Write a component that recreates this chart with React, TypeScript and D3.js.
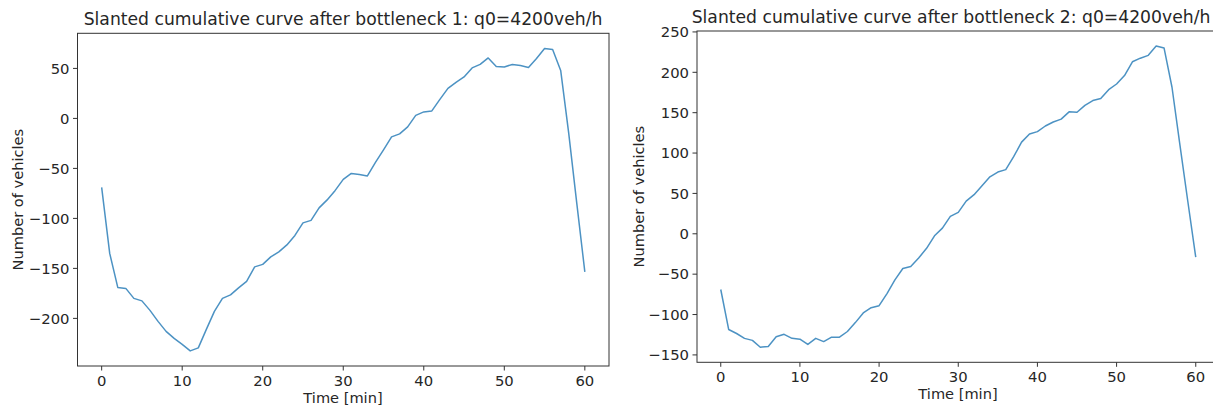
import React from "react";
import * as d3 from "d3";

const minutes: number[] = Array.from({ length: 61 }, (_, i) => i);

const bottleneck1: number[] = [
  -69, -135, -169, -170, -180, -182.5, -192, -203, -213, -220,
  -226, -232.5, -229.5, -211, -193, -180, -176.5, -169.5, -163, -148.5,
  -146, -138.5, -133.5, -126.5, -117, -104.5, -102, -89.5, -81.5, -72,
  -61, -55, -56, -57.5, -44, -31.5, -18.5, -15.5, -8.5, 3,
  6.5, 7.5, 19, 30, 36, 41.5, 50.5, 54, 60.5, 52,
  51.5, 54, 53, 51, 60, 70, 69, 48, -15, -85,
  -153.5,
];

const bottleneck2: number[] = [
  -69, -118.5, -123.5, -129.5, -132, -140.5, -139.5, -127.5, -124.5, -129.5,
  -130.5, -137, -129.5, -133.5, -128, -128, -121, -110, -98, -91.5,
  -89, -74, -57, -43, -40.5, -30, -18, -2.5, 7, 21.5,
  26.5, 40.5, 48.5, 59.5, 70.5, 76.5, 79.5, 95.5, 113.5, 123.5,
  126.5, 133.5, 138.5, 142, 151, 150.5, 159, 165, 167.5, 178.5,
  185.5, 196, 213, 217.5, 221, 232.5, 230, 181.5, 110, 40,
  -29,
];

const xTicks: number[] = [0, 10, 20, 30, 40, 50, 60];
const yTicks1: number[] = [-200, -150, -100, -50, 0, 50];
const yTicks2: number[] = [-150, -100, -50, 0, 50, 100, 150, 200, 250];

const titles: string[] = [
  "Slanted cumulative curve after bottleneck 1: q0=4200veh/h",
  "Slanted cumulative curve after bottleneck 2: q0=4200veh/h",
];
const xLabel = "Time [min]";
const yLabel = "Number of vehicles";

const FONT = "'DejaVu Sans', sans-serif";
const TEXT = "#262626";

function fmt(v: number): string {
  return v < 0 ? "\u2212" + Math.abs(v) : String(v);
}

interface PanelProps {
  left: number;
  right: number;
  top: number;
  bottom: number;
  values: number[];
  yTicks: number[];
  title: string;
  titleX: number;
  xLabelX: number;
  yLabelX: number;
}

function Panel({ left, right, top, bottom, values, yTicks, title, titleX, xLabelX, yLabelX }: PanelProps) {
  const ymin = d3.min(values) as number;
  const ymax = d3.max(values) as number;
  const ym = (ymax - ymin) * 0.05;
  const x = d3.scaleLinear().domain([-3, 63]).range([left, right]);
  const y = d3.scaleLinear().domain([ymin - ym, ymax + ym]).range([bottom, top]);
  const line = d3
    .line<number>()
    .x((_, i) => x(minutes[i]))
    .y((d) => y(d));
  const cy = (top + bottom) / 2;
  return (
    <g>
      <path d={line(values) || ""} fill="none" stroke="#1f77b4" strokeOpacity={0.8} strokeWidth={1.5} strokeLinejoin="round" />
      <rect x={left} y={top} width={right - left} height={bottom - top} fill="none" stroke="#333" strokeWidth={1} />
      {xTicks.map((t) => (
        <g key={"x" + t}>
          <line x1={x(t)} x2={x(t)} y1={bottom} y2={bottom + 4.5} stroke="#333" strokeWidth={1} />
          <text x={x(t)} y={bottom + 19.5} textAnchor="middle" fontSize={14.8} fontFamily={FONT} fill={TEXT}>
            {fmt(t)}
          </text>
        </g>
      ))}
      {yTicks.map((t) => (
        <g key={"y" + t}>
          <line x1={left - 4.5} x2={left} y1={y(t)} y2={y(t)} stroke="#333" strokeWidth={1} />
          <text x={left - 8} y={y(t)} dy="0.36em" textAnchor="end" fontSize={14.8} fontFamily={FONT} fill={TEXT}>
            {fmt(t)}
          </text>
        </g>
      ))}
      <text x={titleX} y={top - 8} textAnchor="middle" fontSize={17.2} fontFamily={FONT} fill={TEXT}>
        {title}
      </text>
      <text x={xLabelX} y={bottom + 37} textAnchor="middle" fontSize={14.6} fontFamily={FONT} fill={TEXT}>
        {xLabel}
      </text>
      <text
        transform={`translate(${yLabelX},${cy}) rotate(-90)`}
        textAnchor="middle"
        dy="0.36em"
        fontSize={14.6}
        fontFamily={FONT}
        fill={TEXT}
      >
        {yLabel}
      </text>
    </g>
  );
}

export default function App() {
  return (
    <svg
      width={1213}
      height={406}
      style={{ position: "absolute", left: 0, top: 0, background: "#fff" }}
    >
      <rect width={1213} height={406} fill="#fff" />
      <Panel left={77.5} right={609} top={33.3} bottom={366} values={bottleneck1} yTicks={yTicks1} title={titles[0]} titleX={343} xLabelX={343} yLabelX={18} />
      <Panel left={697} right={1219.5} top={31} bottom={362.3} values={bottleneck2} yTicks={yTicks2} title={titles[1]} titleX={951} xLabelX={958} yLabelX={639} />
    </svg>
  );
}
